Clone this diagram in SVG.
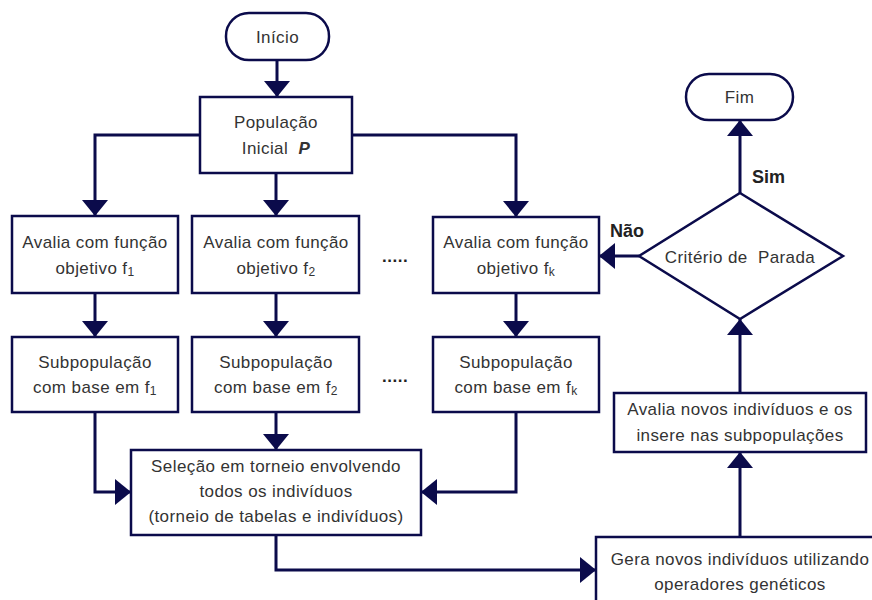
<svg xmlns="http://www.w3.org/2000/svg" width="872" height="600" viewBox="0 0 872 600">
<defs>
<marker id="ah" markerUnits="userSpaceOnUse" markerWidth="16" markerHeight="26" refX="16" refY="13" orient="auto">
<path d="M0,0 L16,13 L0,26 z" fill="#0b0b4b"/>
</marker>
<style>
.box{fill:#fff;stroke:#0b0b4b;stroke-width:2.5}
.t{font-family:"Liberation Sans",Arial,sans-serif;font-size:17px;fill:#333;text-anchor:middle;letter-spacing:0.4px;white-space:pre}
.b{font-family:"Liberation Sans",Arial,sans-serif;font-size:18px;font-weight:bold;fill:#222}
.d{font-family:"Liberation Sans",Arial,sans-serif;font-size:17px;font-weight:bold;fill:#222;letter-spacing:0.5px}
.c{fill:none;stroke:#0b0b4b;stroke-width:3;marker-end:url(#ah)}
.s{font-size:12px}
</style>
</defs>
<rect width="872" height="600" fill="#fff"/>
<g id="connectors">
<path class="c" d="M277,60 V97"/>
<path class="c" d="M200,135 H95 V216"/>
<path class="c" d="M276,173 V216"/>
<path class="c" d="M352,135 H516 V217"/>
<path class="c" d="M95,293 V337"/>
<path class="c" d="M276,293 V337"/>
<path class="c" d="M516,293 V337"/>
<path class="c" d="M95,412 V492 H131"/>
<path class="c" d="M276,412 V450"/>
<path class="c" d="M516,412 V492 H421"/>
<path class="c" d="M276,535 V570 H596"/>
<path class="c" d="M740,537 V452"/>
<path class="c" d="M740,393 V319"/>
<path class="c" d="M740,193 V120"/>
<path class="c" d="M639,256 H599"/>
</g>
<g id="inicio"><rect class="box" x="226" y="13" width="103" height="47" rx="23"/><text class="t" x="277.5" y="43">Início</text></g>
<g id="populacao"><rect class="box" x="200" y="97" width="152" height="76"/><text class="t" x="276" y="128">População</text><text class="t" x="276" y="154">Inicial  <tspan font-weight="bold" font-style="italic">P</tspan></text></g>
<g id="avalia1"><rect class="box" x="12" y="216" width="166" height="77"/><text class="t" x="95" y="248">Avalia com função</text><text class="t" x="95" y="274">objetivo f<tspan class="s" dy="2">1</tspan></text></g>
<g id="avalia2"><rect class="box" x="192" y="216" width="167" height="77"/><text class="t" x="276" y="248">Avalia com função</text><text class="t" x="276" y="274">objetivo f<tspan class="s" dy="2">2</tspan></text></g>
<g id="avaliak"><rect class="box" x="433" y="217" width="166" height="76"/><text class="t" x="516" y="248">Avalia com função</text><text class="t" x="516" y="274">objetivo f<tspan class="s" dy="2">k</tspan></text></g>
<g id="dots1"><text class="d" x="382" y="262">.....</text></g>
<g id="sub1"><rect class="box" x="12" y="337" width="166" height="75"/><text class="t" x="95" y="368">Subpopulação</text><text class="t" x="95" y="393">com base em f<tspan class="s" dy="2">1</tspan></text></g>
<g id="sub2"><rect class="box" x="192" y="337" width="167" height="75"/><text class="t" x="276" y="368">Subpopulação</text><text class="t" x="276" y="393">com base em f<tspan class="s" dy="2">2</tspan></text></g>
<g id="subk"><rect class="box" x="433" y="337" width="166" height="75"/><text class="t" x="516" y="368">Subpopulação</text><text class="t" x="516" y="393">com base em f<tspan class="s" dy="2">k</tspan></text></g>
<g id="dots2"><text class="d" x="382" y="382">.....</text></g>
<g id="selecao"><rect class="box" x="131" y="450" width="290" height="85"/><text class="t" x="276" y="472">Seleção em torneio envolvendo</text><text class="t" x="276" y="497">todos os indivíduos</text><text class="t" x="276" y="522">(torneio de tabelas e indivíduos)</text></g>
<g id="gera"><rect class="box" x="596" y="537" width="290" height="80"/><text class="t" x="740" y="565">Gera novos indivíduos utilizando</text><text class="t" x="740" y="590">operadores genéticos</text></g>
<g id="avalianovos"><rect class="box" x="614" y="393" width="252" height="59"/><text class="t" x="740" y="415">Avalia novos indivíduos e os</text><text class="t" x="740" y="441">insere nas subpopulações</text></g>
<g id="criterio"><path class="box" d="M740,193 L843,256 L740,319 L639,256 Z"/><text class="t" x="740" y="263">Critério de  Parada</text></g>
<g id="fim"><rect class="box" x="686" y="74" width="107" height="46" rx="23"/><text class="t" x="739.5" y="103">Fim</text></g>
<g id="labels"><text class="b" x="752" y="183">Sim</text><text class="b" x="610" y="237">Não</text></g>
</svg>
